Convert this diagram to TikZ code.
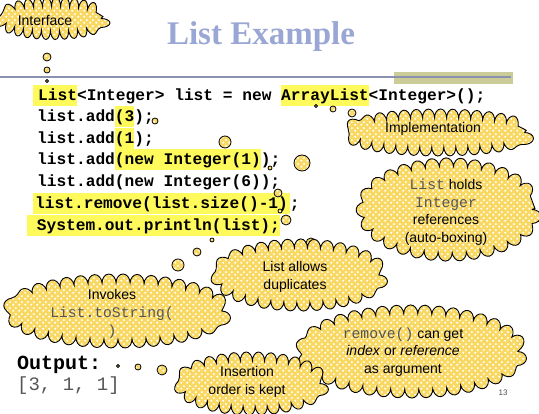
\documentclass[tikz,border=0pt]{standalone}
\usepackage{fontspec}
\setmainfont{Liberation Sans}
\setmonofont{Liberation Mono}
\newfontfamily\titlefont{Liberation Serif}
\usetikzlibrary{patterns,decorations.pathmorphing}

\definecolor{titleblue}{HTML}{9AA7D4}
\definecolor{rulegray}{HTML}{8C91B0}
\definecolor{oliveband}{HTML}{CCCC99}
\definecolor{hlyellow}{HTML}{FFFA5C}
\definecolor{cloudfill}{HTML}{F9D862}
\definecolor{codegray}{HTML}{555555}

\pgfdeclarepatternformonly{sparkle}{\pgfqpoint{0pt}{0pt}}{\pgfqpoint{6pt}{6pt}}{\pgfqpoint{6pt}{6pt}}{%
  \pgfpathcircle{\pgfqpoint{1.5pt}{1.5pt}}{1.3pt}%
  \pgfpathcircle{\pgfqpoint{4.5pt}{4.5pt}}{1.3pt}%
  \pgfusepath{fill}}

\newcommand\hilite[1]{{\setlength{\fboxsep}{0pt}\colorbox{hlyellow}{\rule[-5.5pt]{0pt}{21pt}#1}}}
\newcommand\mono[1]{{\ttfamily\fontsize{14.7}{17.7}\selectfont\color{codegray}#1}}

\tikzset{
  cloudblob/.style={draw=black, line width=0.9pt, preaction={fill=cloudfill},
    pattern=sparkle, pattern color=white, decorate,
    decoration={bumps, segment length=#1, amplitude=9pt}},
  puff/.style={circle, draw=black, line width=0.8pt, preaction={fill=cloudfill},
    pattern=sparkle, pattern color=white, inner sep=0pt, minimum size=#1},
  ctext/.style={align=center, inner sep=0pt, text=black,
    font=\fontsize{14}{17.7}\selectfont},
  code/.style={anchor=base west, inner sep=0pt,
    font=\ttfamily\bfseries\fontsize{16.2}{20}\selectfont}
}

\begin{document}
\begin{tikzpicture}[x=1pt,y=-1pt]
\useasboundingbox (0,0) rectangle (539,414);

% title bar
\node (title) at (261,37) {\titlefont\bfseries\fontsize{33}{36}\selectfont\color{titleblue}List Example};
\fill[oliveband] (394,72) rectangle (513,84);
\draw[rulegray, line width=1.3pt] (0,77) -- (511,77);

% code
\node[code] (l1) at (33,100.6) {\hilite{\hspace{5pt}List}<Integer> list = new \hilite{ArrayList}<Integer>();};
\node[code] (l2) at (37,122) {list.add\hilite{(3});};
\node[code] (l3) at (37,143.5) {list.add\hilite{(1});};
\node[code] (l4) at (37,165) {list.add\hilite{(new Integer(1)});};
\node[code] (l5) at (37,186.5) {list.add(new Integer(6));};
\node[code] (l6) at (33,208.5) {\hilite{\hspace{2pt}list.remove(list.size()-1)\hspace{2pt}};};
\node[code] (l7) at (27,230.5) {\hilite{ System.out.println(list);}};

\node[anchor=west, inner sep=0pt, font=\ttfamily\bfseries\fontsize{20}{22}\selectfont] (out) at (17,365) {Output:};
\node[anchor=west, inner sep=0pt, font=\ttfamily\fontsize{19}{22}\selectfont, text=codegray] (res) at (17,386) {[3, 1, 1]};
\node[font=\fontsize{8}{10}\selectfont, text=black!70] (page) at (503,393) {13};

% Interface
\path[cloudblob=18pt] (53,18.5) ellipse [x radius=48, y radius=12];
\node[ctext] (interfaceText) at (45,21) {Interface};
\node[puff=8pt] (ifB1) at (47,57) {};
\node[puff=6pt] (ifB2) at (47,70) {};
\node[puff=3pt] (ifB3) at (47,81) {};

% Implementation
\path[cloudblob=24pt] (438.5,132.5) ellipse [x radius=86, y radius=14.5];
\node[ctext] (implText) at (433,129) {Implementation};
\node[puff=8pt] (impB1) at (352,113) {};
\node[puff=6pt] (impB2) at (333,109) {};
\node[puff=3pt] (impB3) at (316,106) {};

% List holds Integer references
\path[cloudblob=28pt] (449,209.5) ellipse [x radius=83, y radius=42.5];
\node[ctext] (holdsText) at (446,212) {\mono{List} holds\\\mono{Integer}\\references\\(auto-boxing)};
\node[puff=16pt] (hB1) at (302,163) {};
\node[puff=12pt] (hB2) at (225,142) {};
\node[puff=6pt] (hB3) at (155,121) {};

% remove()
\node[puff=4pt] (remB1) at (280,211) {};
\path[cloudblob=28pt] (411.5,351.5) ellipse [x radius=106, y radius=37.5];
\node[ctext] (removeText) at (403,352) {\mono{remove()} can get\\\textit{index} or \textit{reference}\\as argument};

% List allows duplicates
\node[puff=10pt] (dB1) at (311,243) {};
\node[puff=10pt] (dB2) at (286,220) {};
\node[puff=8pt] (dB3) at (278,193) {};
\node[puff=4pt] (dB4) at (270,168) {};
\path[cloudblob=26pt] (299.5,275) ellipse [x radius=79, y radius=27];
\node[ctext] (dupText) at (295,277) {List allows\\duplicates};

% Invokes List.toString()
\path[cloudblob=28pt] (117.5,311) ellipse [x radius=104, y radius=28];
\node[ctext] (invokesText) at (112,314) {Invokes\\\mono{List.toString(}\\\mono{)}};
\node[puff=12pt] (invB1) at (178,265) {};
\node[puff=8pt] (invB2) at (197,252) {};
\node[puff=4pt] (invB3) at (212,240) {};

% Insertion order
\path[cloudblob=24pt] (251.5,383.5) ellipse [x radius=68, y radius=22.5];
\node[ctext] (orderText) at (247,382) {Insertion\\order is kept};
\node[puff=10pt] (oB1) at (162,370) {};
\node[puff=6pt] (oB2) at (138,367) {};
\node[puff=3pt] (oB3) at (118,366) {};
\end{tikzpicture}
\end{document}
